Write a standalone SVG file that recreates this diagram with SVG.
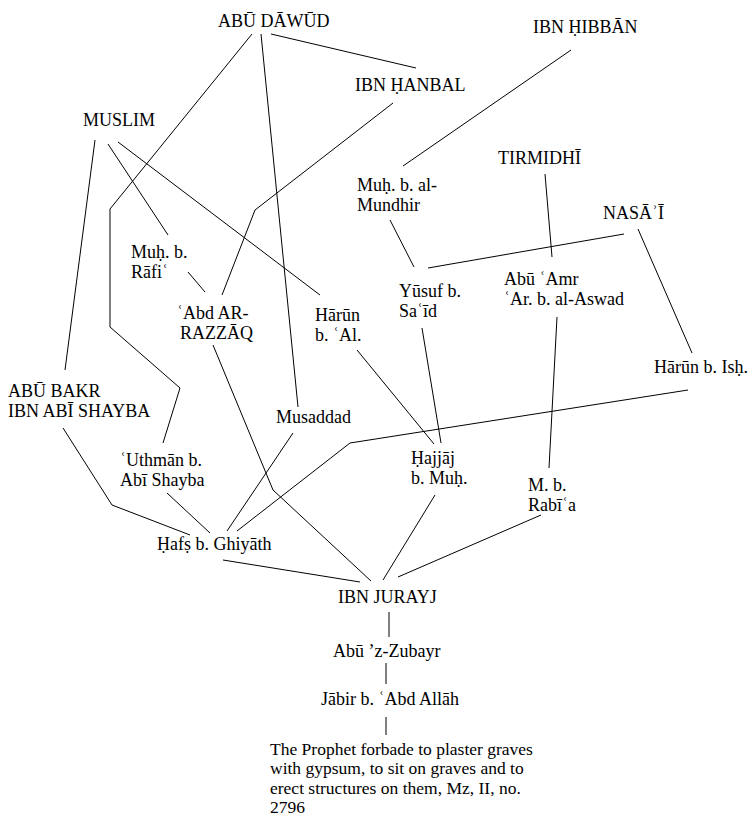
<svg xmlns="http://www.w3.org/2000/svg" width="752" height="817" viewBox="0 0 752 817">
  <style>
    text { font-family: "Liberation Serif", "Times New Roman", serif; font-size: 18px; fill: #000; }
    .matn { font-size: 17.5px; }
    .link { fill: none; stroke: #000; stroke-width: 1; }
  </style>
  <rect x="0" y="0" width="752" height="817" fill="#fff"/>

  <!-- transmission lines -->
  <g id="connectors">
    <polyline class="link" points="252,34 110,209 110,327 180,388 163,443"/>
    <polyline class="link" points="261,34 298,407"/>
    <polyline class="link" points="271,34 416,68"/>
    <polyline class="link" points="393,103 255,210 222,295"/>
    <polyline class="link" points="95,140 65,370"/>
    <polyline class="link" points="108,144 168,235"/>
    <polyline class="link" points="118,142 320,295"/>
    <polyline class="link" points="188,272 205,292"/>
    <polyline class="link" points="213,345 273,490 371,581"/>
    <polyline class="link" points="357,350 434,444"/>
    <polyline class="link" points="63,428 112,505 190,535"/>
    <polyline class="link" points="167,493 210,533"/>
    <polyline class="link" points="293,433 227,531"/>
    <polyline class="link" points="688,390 350,443 237,531"/>
    <polyline class="link" points="223,560 360,582"/>
    <polyline class="link" points="435,495 383,580"/>
    <polyline class="link" points="541,515 398,577"/>
    <polyline class="link" points="389,612 389,637"/>
    <polyline class="link" points="386,663 386,684"/>
    <polyline class="link" points="386,717 386,735"/>
    <polyline class="link" points="571,50 403,166"/>
    <polyline class="link" points="390,220 414,267"/>
    <polyline class="link" points="545,174 552,257"/>
    <polyline class="link" points="624,234 428,268"/>
    <polyline class="link" points="638,229 692,353"/>
    <polyline class="link" points="422,328 441,443"/>
    <polyline class="link" points="557,317 549,468"/>
  </g>

  <!-- transmitters -->
  <g id="abu-dawud"><text x="218" y="27">ABŪ DĀWŪD</text></g>
  <g id="ibn-hanbal"><text x="355" y="91">IBN ḤANBAL</text></g>
  <g id="ibn-hibban"><text x="533" y="33">IBN ḤIBBĀN</text></g>
  <g id="muslim"><text x="83" y="126">MUSLIM</text></g>
  <g id="tirmidhi"><text x="498" y="164">TIRMIDHĪ</text></g>
  <g id="muh-mundhir"><text x="357" y="191">Muḥ. b. al-</text><text x="357" y="211">Mundhir</text></g>
  <g id="nasai"><text x="603" y="219">NASĀʾĪ</text></g>
  <g id="muh-rafi"><text x="131" y="258">Muḥ. b.</text><text x="131" y="278">Rāfiʿ</text></g>
  <g id="yusuf-said"><text x="399" y="297">Yūsuf b.</text><text x="399" y="317">Saʿīd</text></g>
  <g id="abu-amr"><text x="504" y="285">Abū ʿAmr</text><text x="504" y="305">ʿAr. b. al-Aswad</text></g>
  <g id="abd-razzaq"><text x="177" y="319">ʿAbd AR-</text><text x="180" y="339">RAZZĀQ</text></g>
  <g id="harun-al"><text x="315" y="321">Hārūn</text><text x="315" y="341">b. ʿAl.</text></g>
  <g id="harun-ish"><text x="654" y="373">Hārūn b. Isḥ.</text></g>
  <g id="abu-bakr"><text x="8" y="397">ABŪ BAKR</text><text x="8" y="417">IBN ABĪ SHAYBA</text></g>
  <g id="musaddad"><text x="276" y="423">Musaddad</text></g>
  <g id="uthman"><text x="120" y="466">ʿUthmān b.</text><text x="120" y="486">Abī Shayba</text></g>
  <g id="hajjaj"><text x="411" y="464">Ḥajjāj</text><text x="411" y="484">b. Muḥ.</text></g>
  <g id="m-rabia"><text x="528" y="491">M. b.</text><text x="528" y="511">Rabīʿa</text></g>
  <g id="hafs"><text x="157" y="550">Ḥafṣ b. Ghiyāth</text></g>
  <g id="ibn-jurayj"><text x="338" y="603">IBN JURAYJ</text></g>
  <g id="abu-zubayr"><text x="333" y="657">Abū ’z-Zubayr</text></g>
  <g id="jabir"><text x="321" y="705">Jābir b. ʿAbd Allāh</text></g>
  <g id="matn">
    <text class="matn" x="270" y="755">The Prophet forbade to plaster graves</text>
    <text class="matn" x="270" y="774.4">with gypsum, to sit on graves and to</text>
    <text class="matn" x="270" y="793.8">erect structures on them, Mz, II, no.</text>
    <text class="matn" x="270" y="813">2796</text>
  </g>
</svg>
